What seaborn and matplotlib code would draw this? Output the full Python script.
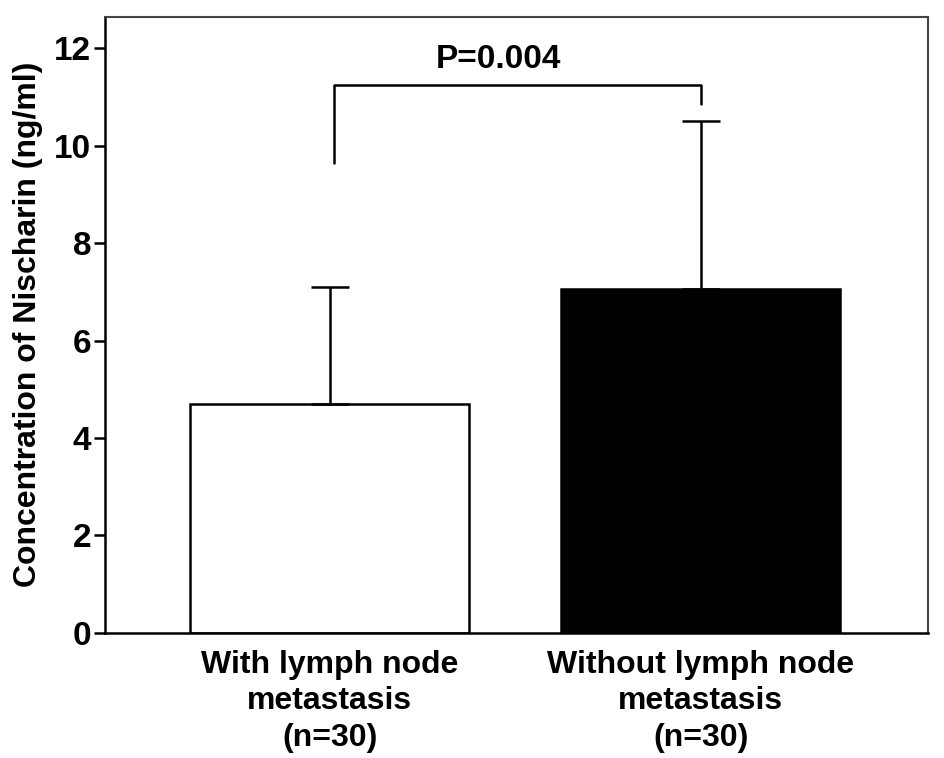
import seaborn as sns
import matplotlib.pyplot as plt
import numpy as np
import pandas as pd

groups = ['With lymph node\nmetastasis\n(n=30)', 'Without lymph node\nmetastasis\n(n=30)']
means = [4.7, 7.05]
sds = [2.4, 3.45]
bar_colors = ['white', 'black']
p_text = 'P=0.004'
bracket_left = 9.65
bracket_top = 11.25
bracket_right = 10.85

sns.set_style('ticks')
plt.rcParams['font.family'] = ['Liberation Sans', 'DejaVu Sans']
plt.rcParams['font.weight'] = 'bold'
plt.rcParams['text.color'] = 'black'
plt.rcParams['axes.labelcolor'] = 'black'
plt.rcParams['xtick.color'] = 'black'
plt.rcParams['ytick.color'] = 'black'

df = pd.DataFrame({'group': groups, 'mean': means})

fig = plt.figure(figsize=(9.45, 7.58), dpi=100)
ax = fig.add_axes([0.111, 0.165, 0.871, 0.813])

sns.barplot(x='group', y='mean', data=df, hue='group', palette=bar_colors,
            edgecolor='black', linewidth=1.8, width=0.752, legend=False, ax=ax)

x = np.arange(len(groups))
ax.errorbar(x, means, yerr=[np.zeros(len(sds)), sds], fmt='none',
            ecolor='black', elinewidth=1.8, capsize=14, capthick=1.8, zorder=1)

# significance bracket
ax.plot([0.012, 0.012, 1.0, 1.0], [bracket_left, bracket_top, bracket_top, bracket_right],
        color='black', lw=1.8)
ax.text(0.455, bracket_top + 0.2, p_text, ha='center', va='bottom',
        fontsize=24, fontweight='bold')

ax.set_xlim(-0.606, 1.612)
ax.set_ylim(0, 12.65)
ax.set_yticks([0, 2, 4, 6, 8, 10, 12])
ax.set_xlabel('')
ax.set_ylabel('Concentration of Nischarin (ng/ml)', fontsize=23, fontweight='bold', labelpad=8)
ax.tick_params(axis='y', labelsize=24, length=8, width=1.8, direction='out', pad=2)
ax.tick_params(axis='x', labelsize=23, length=0, pad=12)
for lab in ax.get_xticklabels():
    lab.set_linespacing(1.3)
    lab.set_fontweight('bold')
for lab in ax.get_yticklabels():
    lab.set_fontweight('bold')

for side in ['left', 'bottom']:
    ax.spines[side].set_linewidth(1.8)
    ax.spines[side].set_color('black')
for side in ['top', 'right']:
    ax.spines[side].set_linewidth(1.5)
    ax.spines[side].set_color('#444444')

fig.savefig('out.png', dpi=100)
